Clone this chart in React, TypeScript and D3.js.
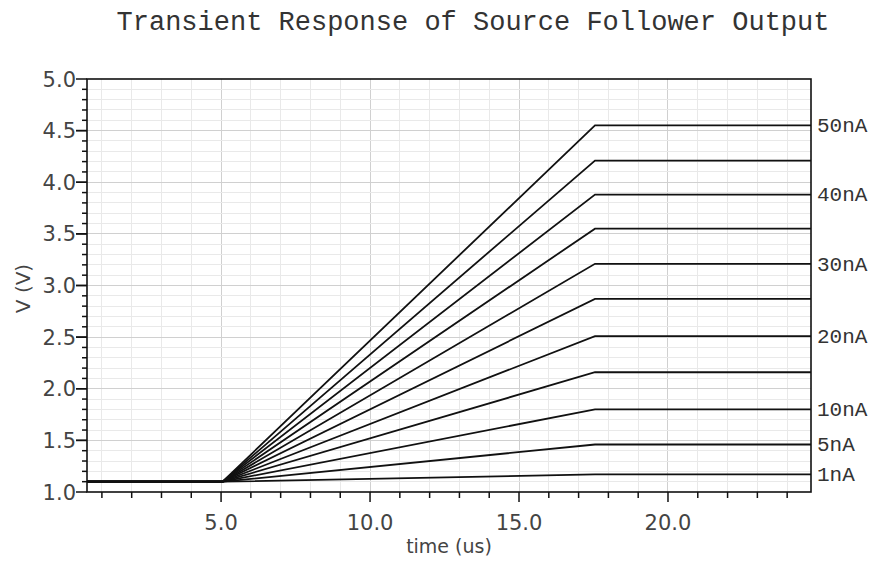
import React, { useEffect, useRef } from "react";
import * as d3 from "d3";

// sweep of bias currents, one trace each
const currents = ["1nA", "5nA", "10nA", "15nA", "20nA", "25nA", "30nA", "35nA", "40nA", "45nA", "50nA"];
const labelled = ["1nA", "5nA", "10nA", "20nA", "30nA", "40nA", "50nA"];

// corner times of the traces (us): start, ramp begin, ramp end, stop
const timeKnots = [0.5, 5.05, 17.55, 24.8];

// voltage of each trace at those corners
const traceVolts = [
  [1.1, 1.1, 1.17, 1.17],
  [1.1, 1.1, 1.46, 1.46],
  [1.1, 1.1, 1.8, 1.8],
  [1.1, 1.1, 2.16, 2.16],
  [1.1, 1.1, 2.51, 2.51],
  [1.1, 1.1, 2.87, 2.87],
  [1.1, 1.1, 3.21, 3.21],
  [1.1, 1.1, 3.55, 3.55],
  [1.1, 1.1, 3.88, 3.88],
  [1.1, 1.1, 4.21, 4.21],
  [1.1, 1.1, 4.55, 4.55],
];

const xTicks = [5, 10, 15, 20];
const yTicks = [1.0, 1.5, 2.0, 2.5, 3.0, 3.5, 4.0, 4.5, 5.0];

const W = 870;
const H = 561;
const m = { top: 79, right: 59, bottom: 69, left: 87 };

export default function App() {
  const svgRef = useRef<SVGSVGElement>(null);

  useEffect(() => {
    if (!svgRef.current) return;
    const svg = d3.select(svgRef.current);
    svg.selectAll("*").remove();

    const x = d3.scaleLinear().domain([0.5, 24.8]).range([m.left, W - m.right]);
    const y = d3.scaleLinear().domain([1.0, 5.0]).range([H - m.bottom, m.top]);

    const sans = "DejaVu Sans, sans-serif";
    const mono = "Liberation Mono, Courier New, monospace";

    const xMinor = d3.range(1, 25);
    const yMinor = d3.range(11, 50).map((d) => d / 10);

    // grid
    const grid = svg.append("g").attr("shape-rendering", "crispEdges");
    grid
      .selectAll("line.vx")
      .data(xMinor)
      .join("line")
      .attr("x1", (d) => x(d))
      .attr("x2", (d) => x(d))
      .attr("y1", m.top)
      .attr("y2", H - m.bottom)
      .attr("stroke", (d) => (d % 5 === 0 ? "#d0d0d0" : "#e9e9e9"));
    grid
      .selectAll("line.hy")
      .data(yMinor)
      .join("line")
      .attr("x1", m.left)
      .attr("x2", W - m.right)
      .attr("y1", (d) => y(d))
      .attr("y2", (d) => y(d))
      .attr("stroke", (d) => (Math.round(d * 10) % 5 === 0 ? "#d0d0d0" : "#e9e9e9"));

    // traces
    const line = d3
      .line<number>()
      .x((_, i) => x(timeKnots[i]))
      .y((d) => y(d));
    svg
      .append("g")
      .selectAll("path")
      .data(traceVolts)
      .join("path")
      .attr("fill", "none")
      .attr("stroke", "#111")
      .attr("stroke-width", 1.8)
      .attr("d", (d) => line(d));

    // frame
    svg
      .append("rect")
      .attr("x", m.left)
      .attr("y", m.top)
      .attr("width", W - m.left - m.right)
      .attr("height", H - m.top - m.bottom)
      .attr("fill", "none")
      .attr("stroke", "#111")
      .attr("stroke-width", 1.6);

    // ticks
    const tk = svg.append("g").attr("stroke", "#111").attr("stroke-width", 1.5);
    tk.selectAll("line.xm")
      .data(xMinor)
      .join("line")
      .attr("x1", (d) => x(d))
      .attr("x2", (d) => x(d))
      .attr("y1", H - m.bottom)
      .attr("y2", (d) => H - m.bottom + (d % 5 === 0 ? 10 : 6));
    tk.selectAll("line.ym")
      .data(yMinor.concat(yTicks))
      .join("line")
      .attr("y1", (d) => y(d))
      .attr("y2", (d) => y(d))
      .attr("x1", m.left)
      .attr("x2", (d) => m.left - (Math.round(d * 10) % 5 === 0 ? 11 : 5));

    svg
      .append("g")
      .selectAll("text")
      .data(xTicks)
      .join("text")
      .attr("x", (d) => x(d))
      .attr("y", 530)
      .attr("text-anchor", "middle")
      .attr("font-family", sans)
      .attr("font-size", 21)
      .attr("fill", "#444")
      .text((d) => d3.format(".1f")(d));

    svg
      .append("g")
      .selectAll("text")
      .data(yTicks)
      .join("text")
      .attr("x", m.left - 11)
      .attr("y", (d) => y(d))
      .attr("dy", "0.36em")
      .attr("text-anchor", "end")
      .attr("font-family", sans)
      .attr("font-size", 21)
      .attr("fill", "#444")
      .text((d) => d3.format(".1f")(d));

    // trace labels on the right
    svg
      .append("g")
      .selectAll("text")
      .data(labelled)
      .join("text")
      .attr("x", W - m.right + 6)
      .attr("y", (d) => y(traceVolts[currents.indexOf(d)][3]))
      .attr("dy", "0.32em")
      .attr("font-family", mono)
      .attr("font-size", 21)
      .attr("fill", "#333")
      .text((d) => d);

    svg
      .append("text")
      .attr("x", 473)
      .attr("y", 30)
      .attr("text-anchor", "middle")
      .attr("font-family", mono)
      .attr("font-size", 27)
      .attr("fill", "#333")
      .text("Transient Response of Source Follower Output");

    svg
      .append("text")
      .attr("x", (m.left + W - m.right) / 2)
      .attr("y", 553)
      .attr("text-anchor", "middle")
      .attr("font-family", sans)
      .attr("font-size", 19)
      .attr("fill", "#444")
      .text("time (us)");

    svg
      .append("text")
      .attr("transform", `translate(30,${(m.top + H - m.bottom) / 2 + 3}) rotate(-90)`)
      .attr("text-anchor", "middle")
      .attr("font-family", sans)
      .attr("font-size", 20)
      .attr("fill", "#444")
      .text("V (V)");
  }, []);

  return (
    <svg
      ref={svgRef}
      width={W}
      height={H}
      style={{ position: "absolute", left: 0, top: 0, background: "#fff" }}
    />
  );
}
